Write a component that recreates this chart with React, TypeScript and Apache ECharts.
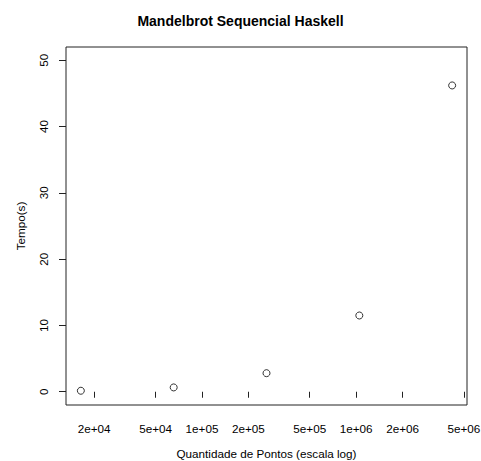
import React, { useEffect, useRef } from "react";
import * as echarts from "echarts";

const points: number[] = [16384, 65536, 262144, 1048576, 4194304];
const times: number[] = [0.15, 0.65, 2.8, 11.5, 46.2];
const xTickValues: number[] = [2e4, 5e4, 1e5, 2e5, 5e5, 1e6, 2e6, 5e6];
const xTickLabels: string[] = ["2e+04", "5e+04", "1e+05", "2e+05", "5e+05", "1e+06", "2e+06", "5e+06"];
const yTickValues: number[] = [0, 10, 20, 30, 40, 50];

const FONT = "Liberation Sans, Arial, Helvetica, sans-serif";
const FS = 11.7;

export default function App() {
  const ref = useRef<HTMLDivElement>(null);
  useEffect(() => {
    if (!ref.current) return;
    const chart = echarts.init(ref.current, undefined, { renderer: "svg" });
    const lx = points.map((p) => Math.log10(p));
    const lo = Math.min(...lx);
    const hi = Math.max(...lx);
    const pad = (hi - lo) * 0.04;
    const xTicksLog = xTickValues.map((v) => Math.log10(v));
    const labelFor = (v: number) => {
      let best = 0;
      let bd = Infinity;
      xTicksLog.forEach((t, i) => {
        const d = Math.abs(t - v);
        if (d < bd) {
          bd = d;
          best = i;
        }
      });
      return xTickLabels[best];
    };
    chart.setOption({
      animation: false,
      backgroundColor: "#fff",
      title: {
        text: "Mandelbrot Sequencial Haskell",
        left: "center",
        top: 9,
        textStyle: { fontFamily: FONT, fontSize: 14, fontWeight: "bold", color: "#000" },
      },
      grid: {
        left: 66,
        top: 47,
        right: 14,
        bottom: 56,
        containLabel: false,
        outerBoundsMode: "none",
        show: true,
        borderColor: "#222",
        borderWidth: 1,
        backgroundColor: "transparent",
      },
      xAxis: {
        type: "value",
        min: lo - pad,
        max: hi + pad,
        name: "Quantidade de Pontos (escala log)",
        nameLocation: "middle",
        nameGap: 42,
        nameTextStyle: { fontFamily: FONT, fontSize: FS, color: "#000" },
        axisLine: { show: false },
        splitLine: { show: false },
        axisTick: {
          show: true,
          inside: false,
          length: 6,
          customValues: xTicksLog,
          lineStyle: { color: "#222", width: 1 },
        },
        axisLabel: {
          customValues: xTicksLog,
          formatter: (v: number) => labelFor(v),
          margin: 17,
          fontFamily: FONT,
          fontSize: FS,
          color: "#000",
        },
      },
      yAxis: {
        type: "value",
        min: -2,
        max: 52,
        name: "Tempo(s)",
        nameLocation: "middle",
        nameGap: 40,
        nameRotate: 90,
        nameTextStyle: { fontFamily: FONT, fontSize: FS, color: "#000" },
        axisLine: { show: false },
        splitLine: { show: false },
        axisTick: {
          show: true,
          length: 7,
          customValues: yTickValues,
          lineStyle: { color: "#222", width: 1 },
        },
        axisLabel: {
          customValues: yTickValues,
          rotate: 90,
          margin: 17,
          fontFamily: FONT,
          fontSize: FS,
          color: "#000",
        },
      },
      series: [
        {
          type: "scatter",
          data: points.map((p, i) => [Math.log10(p), times[i]]),
          symbol: "circle",
          symbolSize: 7,
          itemStyle: { color: "#fff", borderColor: "#000", borderWidth: 1 },
        },
      ],
    });
    return () => chart.dispose();
  }, []);
  return <div ref={ref} style={{ width: 481, height: 461, position: "absolute", left: 0, top: 0 }} />;
}
